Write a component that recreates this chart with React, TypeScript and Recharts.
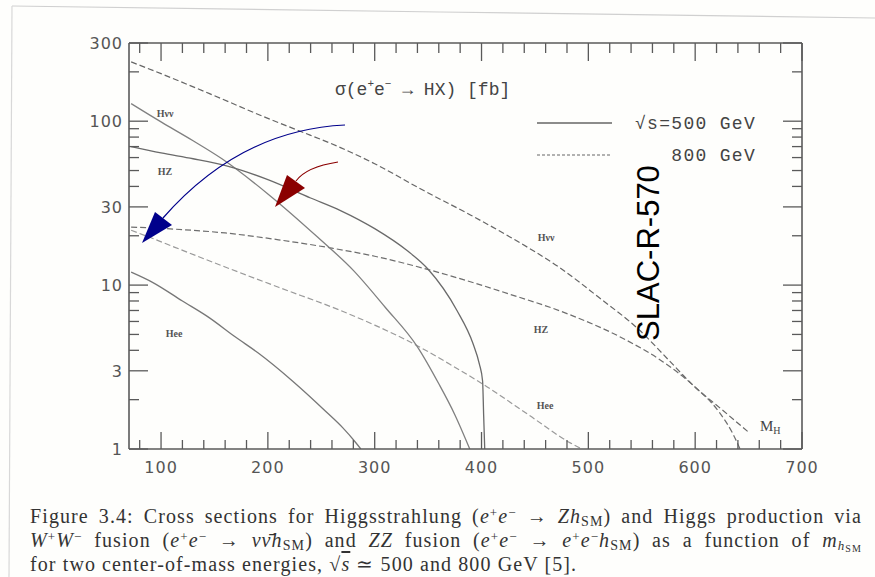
import { Line, LineChart, XAxis, YAxis } from 'recharts';

// Higgs mass (GeV) vs cross section (fb)
const hnn500 = [
  { m: 72, s: 128 }, { m: 100, s: 99 }, { m: 130, s: 76 }, { m: 157, s: 59 },
  { m: 200, s: 36 }, { m: 247, s: 19.5 }, { m: 280, s: 12.3 }, { m: 310, s: 7.3 },
  { m: 340, s: 4.2 }, { m: 360, s: 2.5 }, { m: 375, s: 1.62 }, { m: 389, s: 1 },
];
const hz500 = [
  { m: 72, s: 70 }, { m: 100, s: 64 }, { m: 130, s: 59 }, { m: 163, s: 53 },
  { m: 200, s: 44 }, { m: 240, s: 34 }, { m: 268, s: 28.5 }, { m: 300, s: 22.1 },
  { m: 330, s: 16.3 }, { m: 350, s: 12.5 }, { m: 377, s: 7 }, { m: 392, s: 4.4 },
  { m: 398, s: 3.3 }, { m: 401, s: 2.6 }, { m: 402, s: 1.6 }, { m: 403, s: 1 },
];
const hee500 = [
  { m: 72, s: 12 }, { m: 92, s: 10.4 }, { m: 120, s: 8 }, { m: 144, s: 6.4 },
  { m: 170, s: 4.8 }, { m: 191, s: 3.85 }, { m: 223, s: 2.6 }, { m: 254, s: 1.7 },
  { m: 270, s: 1.35 }, { m: 282, s: 1.1 }, { m: 287, s: 1 },
];
const hnn800 = [
  { m: 72, s: 230 }, { m: 100, s: 195 }, { m: 150, s: 143 }, { m: 200, s: 104 },
  { m: 228, s: 88 }, { m: 268, s: 69 }, { m: 300, s: 55 }, { m: 345, s: 38 },
  { m: 390, s: 26.7 }, { m: 427, s: 19.6 }, { m: 473, s: 12.8 }, { m: 510, s: 8.4 },
  { m: 548, s: 5.3 }, { m: 575, s: 3.5 }, { m: 598, s: 2.45 }, { m: 625, s: 1.74 },
  { m: 651, s: 1.25 },
];
const hz800 = [
  { m: 72, s: 22.6 }, { m: 120, s: 21.8 }, { m: 160, s: 20.8 }, { m: 210, s: 18.9 },
  { m: 260, s: 16.8 }, { m: 300, s: 15 }, { m: 345, s: 12.7 }, { m: 385, s: 10.7 },
  { m: 424, s: 8.9 }, { m: 480, s: 6.7 }, { m: 536, s: 4.6 }, { m: 570, s: 3.4 },
  { m: 598, s: 2.45 }, { m: 623, s: 1.66 }, { m: 635, s: 1.25 }, { m: 642, s: 1 },
];
const hee800 = [
  { m: 72, s: 21.6 }, { m: 90, s: 19.5 }, { m: 113, s: 17 }, { m: 160, s: 12.9 },
  { m: 210, s: 9.7 }, { m: 268, s: 7 }, { m: 300, s: 5.7 }, { m: 336, s: 4.4 },
  { m: 370, s: 3.3 }, { m: 405, s: 2.4 }, { m: 445, s: 1.6 }, { m: 483, s: 1.09 },
  { m: 494, s: 1 },
];

const massTicks = [
  80, 100, 120, 140, 160, 180, 200, 220, 240, 260, 280, 300, 320, 340, 360, 380, 400,
  420, 440, 460, 480, 500, 520, 540, 560, 580, 600, 620, 640, 660, 680, 700,
];
const massLabels = [100, 200, 300, 400, 500, 600, 700];
const sigmaTicks = [1, 2, 3, 4, 5, 6, 7, 8, 9, 10, 20, 30, 40, 50, 60, 70, 80, 90, 100, 200, 300];
const sigmaLabels = [1, 3, 10, 30, 100, 300];

const AXIS = '#5a5a5a';
const TICK_FONT = '"DejaVu Sans", sans-serif';
const MONO = '"Liberation Mono", monospace';
const SERIF = '"Liberation Serif", serif';

function BottomTick({ x, y, payload }: any) {
  const major = massLabels.includes(payload.value);
  return (
    <g>
      <line x1={x} x2={x} y1={y} y2={y - (major ? 17 : 9)} stroke={AXIS} strokeWidth={1.3} />
      {major && (
        <text x={x} y={y + 24} textAnchor="middle" fontFamily={TICK_FONT} fontSize={16} letterSpacing={1} fill="#555">
          {payload.value}
        </text>
      )}
    </g>
  );
}

function TopTick({ x, y, payload }: any) {
  const major = massLabels.includes(payload.value);
  return <line x1={x} x2={x} y1={y} y2={y + (major ? 18 : 10)} stroke={AXIS} strokeWidth={1.3} />;
}

function LeftTick({ x, y, payload }: any) {
  const major = sigmaLabels.includes(payload.value);
  return (
    <g>
      <line x1={x} x2={x + (major ? 19 : 10)} y1={y} y2={y} stroke={AXIS} strokeWidth={1.3} />
      {major && (
        <text x={x - 6} y={y + 6} textAnchor="end" fontFamily={TICK_FONT} fontSize={16} letterSpacing={1} fill="#555">
          {payload.value}
        </text>
      )}
    </g>
  );
}

function RightTick({ x, y, payload }: any) {
  const major = sigmaLabels.includes(payload.value);
  return <line x1={x} x2={x - (major ? 19 : 10)} y1={y} y2={y} stroke={AXIS} strokeWidth={1.3} />;
}

function CurveLabel({ x, y, children }: any) {
  return (
    <text x={x} y={y} textAnchor="middle" fontFamily={SERIF} fontSize={10} fontWeight="bold" fill="#555">
      {children}
    </text>
  );
}

const sup = { fontSize: 13, lineHeight: 0, verticalAlign: '6px' };
const sub = { fontSize: 14, lineHeight: 0, verticalAlign: '-3px' };

export default function App() {
  const lineProps = {
    xAxisId: 'bottom',
    yAxisId: 'left',
    dataKey: 's',
    type: 'monotone' as const,
    dot: false,
    activeDot: false,
    isAnimationActive: false,
  };

  return (
    <div style={{ position: 'absolute', left: 0, top: 0, width: 875, height: 577, background: '#fefefc', overflow: 'hidden' }}>
      <LineChart width={875} height={490} margin={{ top: 42, right: 72, bottom: 40, left: 128 }}>
        <XAxis
          xAxisId="bottom"
          dataKey="m"
          type="number"
          domain={[70, 700]}
          allowDataOverflow
          ticks={massTicks}
          interval={0}
          height={1}
          tickSize={0}
          tickMargin={0}
          tickLine={false}
          tick={BottomTick}
          axisLine={{ stroke: AXIS, strokeWidth: 1.6 }}
        />
        <XAxis
          xAxisId="top"
          orientation="top"
          dataKey="m"
          type="number"
          domain={[70, 700]}
          allowDataOverflow
          ticks={massTicks}
          interval={0}
          height={1}
          tickSize={0}
          tickMargin={0}
          tickLine={false}
          tick={TopTick}
          axisLine={{ stroke: AXIS, strokeWidth: 1.6 }}
        />
        <YAxis
          yAxisId="left"
          type="number"
          scale="log"
          domain={[1, 300]}
          allowDataOverflow
          ticks={sigmaTicks}
          interval={0}
          width={1}
          tickSize={0}
          tickMargin={0}
          tickLine={false}
          tick={LeftTick}
          axisLine={{ stroke: AXIS, strokeWidth: 1.6 }}
        />
        <YAxis
          yAxisId="right"
          orientation="right"
          type="number"
          scale="log"
          domain={[1, 300]}
          allowDataOverflow
          ticks={sigmaTicks}
          interval={0}
          width={1}
          tickSize={0}
          tickMargin={0}
          tickLine={false}
          tick={RightTick}
          axisLine={{ stroke: AXIS, strokeWidth: 1.6 }}
        />
        <Line {...lineProps} data={hnn800} stroke="#666" strokeWidth={1.2} strokeDasharray="6 3" />
        <Line {...lineProps} data={hz800} stroke="#6e6e6e" strokeWidth={1.2} strokeDasharray="6 3" />
        <Line {...lineProps} data={hee800} stroke="#9a9a9a" strokeWidth={1.2} strokeDasharray="6 3" />
        <Line {...lineProps} data={hnn500} stroke="#808080" strokeWidth={1.3} />
        <Line {...lineProps} data={hz500} stroke="#6a6a6a" strokeWidth={1.3} />
        <Line {...lineProps} data={hee500} stroke="#777" strokeWidth={1.3} />
      </LineChart>

      <svg width={875} height={577} style={{ position: 'absolute', left: 0, top: 0, pointerEvents: 'none' }}>
        {/* scanned page edges */}
        <path d="M12,6 L440,12 L875,18" stroke="#d0d0d0" strokeWidth={1.2} fill="none" />
        <path d="M12,6 L9,577" stroke="#d8d8d8" strokeWidth={1.2} fill="none" />

        <text x={335} y={95} fontFamily={MONO} fontSize={18} fill="#444">
          <tspan>σ(e</tspan>
          <tspan dy={-8} fontSize={11}>+</tspan>
          <tspan dy={8}>e</tspan>
          <tspan dy={-8} fontSize={11}>−</tspan>
          <tspan dy={8}> → HX) [fb]</tspan>
        </text>

        <line x1={537} x2={612} y1={123} y2={123} stroke="#666" strokeWidth={1.3} />
        <text x={756} y={129} textAnchor="end" fontFamily={MONO} fontSize={18} letterSpacing={1.3} fill="#444">
          √s=500 GeV
        </text>
        <line x1={537} x2={612} y1={155} y2={155} stroke="#666" strokeWidth={1.2} strokeDasharray="3 2" />
        <text x={756} y={161} textAnchor="end" fontFamily={MONO} fontSize={18} letterSpacing={1.3} fill="#444">
          800 GeV
        </text>

        <CurveLabel x={165} y={117}>Hνν</CurveLabel>
        <CurveLabel x={165} y={175}>HZ</CurveLabel>
        <CurveLabel x={174} y={337}>Hee</CurveLabel>
        <CurveLabel x={546} y={241}>Hνν</CurveLabel>
        <CurveLabel x={541} y={333}>HZ</CurveLabel>
        <CurveLabel x={545} y={409}>Hee</CurveLabel>
        <text x={760} y={431} fontFamily={SERIF} fontSize={15} fill="#444">
          M<tspan fontSize={10} dy={3}>H</tspan>
        </text>

        {/* annotation arrows */}
        <path d="M345,125 Q240,130 163,218" stroke="#00008b" strokeWidth={1.2} fill="none" />
        <polygon points="142,243 155,212 172,225" fill="#00008b" />
        <path d="M338,162 Q306,167 296,181" stroke="#8b0000" strokeWidth={1.2} fill="none" />
        <polygon points="275,207 287,175 305,188" fill="#8b0000" />

        <text
          x={0}
          y={0}
          transform="translate(659,253) rotate(-90)"
          textAnchor="middle"
          fontFamily='"Liberation Sans", Arial, sans-serif'
          fontSize={31}
          fill="#000"
        >
          SLAC-R-570
        </text>
      </svg>

      <div
        style={{
          position: 'absolute',
          left: 30,
          top: 504,
          width: 832,
          fontFamily: SERIF,
          fontSize: 20,
          letterSpacing: 1.1,
          lineHeight: '24px',
          color: '#333',
          whiteSpace: 'nowrap',
        }}
      >
        <div style={{ textAlign: 'justify', textAlignLast: 'justify', whiteSpace: 'normal' }}>
          Figure 3.4: Cross sections for Higgsstrahlung (<i>e</i>
          <sup style={sup}>+</sup>
          <i>e</i>
          <sup style={sup}>−</sup> → <i>Zh</i>
          <sub style={sub}>SM</sub>) and Higgs production via
        </div>
        <div style={{ textAlign: 'justify', textAlignLast: 'justify', whiteSpace: 'normal' }}>
          <i>W</i>
          <sup style={sup}>+</sup>
          <i>W</i>
          <sup style={sup}>−</sup> fusion (<i>e</i>
          <sup style={sup}>+</sup>
          <i>e</i>
          <sup style={sup}>−</sup> → <i>νν̄h</i>
          <sub style={sub}>SM</sub>) and <i>ZZ</i> fusion (<i>e</i>
          <sup style={sup}>+</sup>
          <i>e</i>
          <sup style={sup}>−</sup> → <i>e</i>
          <sup style={sup}>+</sup>
          <i>e</i>
          <sup style={sup}>−</sup>
          <i>h</i>
          <sub style={sub}>SM</sub>) as a function of <i>m</i>
          <sub style={{ fontSize: 13, lineHeight: 0, verticalAlign: '-3px' }}>
            <i>h</i>
            <sub style={{ fontSize: 10, lineHeight: 0, verticalAlign: '-2px' }}>SM</sub>
          </sub>
        </div>
        <div>
          for two center-of-mass energies, √<span style={{ textDecoration: 'overline' }}><i>s</i></span> ≃ 500 and 800 GeV [5].
        </div>
      </div>
    </div>
  );
}
